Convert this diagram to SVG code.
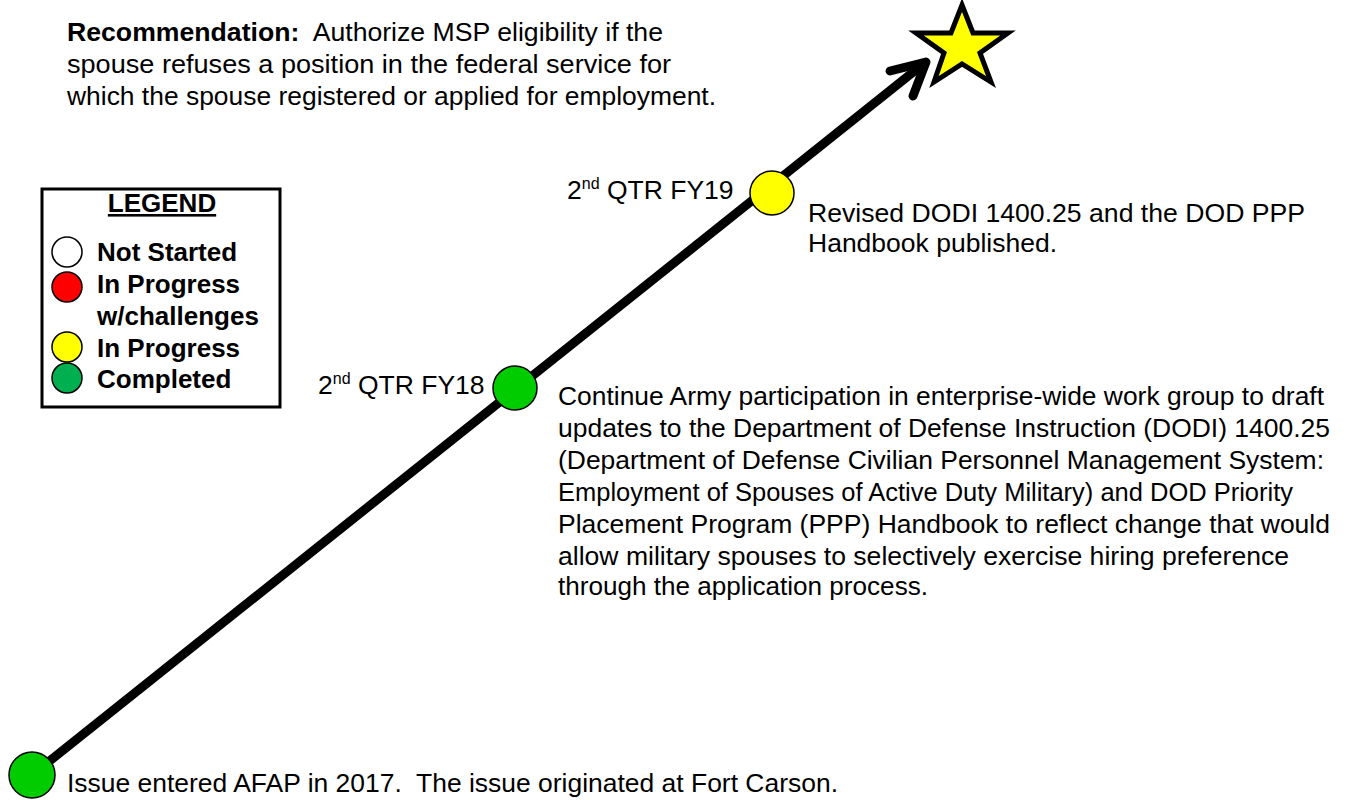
<svg xmlns="http://www.w3.org/2000/svg" width="1351" height="800" viewBox="0 0 1351 800">
<style>
  text { font-family: "Liberation Sans", Arial, sans-serif; fill: #000; white-space: pre; }
  .t { font-size: 26.5px; }
  .b { font-weight: bold; }
  .lg { font-size: 26px; font-weight: bold; }
  .node { stroke: #000; stroke-width: 1.5; }
  .sup { font-size: 16px; }
</style>
<rect width="1351" height="800" fill="#fff"/>
<g id="connectors">
  <line x1="32" y1="775" x2="922" y2="65" stroke="#000" stroke-width="9"/>
  <polyline points="890,71 926,62 913,96" fill="none" stroke="#000" stroke-width="9" stroke-linecap="round" stroke-linejoin="round"/>
</g>
<g id="star">
  <polygon points="962,5 973,33 1008,33 980,53 991,82 962,64 934,82 944,53 916,33 951,33" fill="#ffff00" stroke="#000" stroke-width="5" stroke-linejoin="miter"/>
</g>
<g id="recommendation">
  <text class="t" x="67" y="41" textLength="596" lengthAdjust="spacingAndGlyphs"><tspan class="b">Recommendation:</tspan>  Authorize MSP eligibility if the</text>
  <text class="t" x="67" y="73" textLength="604" lengthAdjust="spacingAndGlyphs">spouse refuses a position in the federal service for</text>
  <text class="t" x="67" y="105" textLength="649" lengthAdjust="spacingAndGlyphs">which the spouse registered or applied for employment.</text>
</g>
<g id="legend">
  <rect x="42" y="189" width="238" height="218" fill="#fff" stroke="#000" stroke-width="3"/>
  <text class="lg" x="162" y="212" text-anchor="middle" text-decoration="underline">LEGEND</text>
  <circle cx="67" cy="252" r="15" fill="#fff" class="node"/>
  <circle cx="67" cy="287" r="15" fill="#ff0000" class="node"/>
  <circle cx="67" cy="347" r="15" fill="#ffff00" class="node"/>
  <circle cx="67" cy="378" r="15" fill="#00b050" class="node"/>
  <text class="lg" x="97" y="261">Not Started</text>
  <text class="lg" x="97" y="293">In Progress</text>
  <text class="lg" x="97" y="325">w/challenges</text>
  <text class="lg" x="97" y="357">In Progress</text>
  <text class="lg" x="97" y="388">Completed</text>
</g>
<g id="node-start">
  <circle cx="32" cy="775" r="23" fill="#00cc00" class="node"/>
  <text class="t" x="67" y="792" textLength="771" lengthAdjust="spacingAndGlyphs">Issue entered AFAP in 2017.  The issue originated at Fort Carson.</text>
</g>
<g id="node-fy18">
  <circle cx="515" cy="388" r="22" fill="#00cc00" class="node"/>
  <text class="t" x="318" y="394">2<tspan class="sup" dy="-10">nd</tspan><tspan dy="10"> QTR FY18</tspan></text>
  <text class="t" x="558" y="405" textLength="766" lengthAdjust="spacingAndGlyphs">Continue Army participation in enterprise-wide work group to draft</text>
  <text class="t" x="558" y="437" textLength="772" lengthAdjust="spacingAndGlyphs">updates to the Department of Defense Instruction (DODI) 1400.25</text>
  <text class="t" x="558" y="469" textLength="766" lengthAdjust="spacingAndGlyphs">(Department of Defense Civilian Personnel Management System:</text>
  <text class="t" x="558" y="501" textLength="735" lengthAdjust="spacingAndGlyphs">Employment of Spouses of Active Duty Military) and DOD Priority</text>
  <text class="t" x="558" y="533" textLength="772" lengthAdjust="spacingAndGlyphs">Placement Program (PPP) Handbook to reflect change that would</text>
  <text class="t" x="558" y="565" textLength="731" lengthAdjust="spacingAndGlyphs">allow military spouses to selectively exercise hiring preference</text>
  <text class="t" x="558" y="595" textLength="370" lengthAdjust="spacingAndGlyphs">through the application process.</text>
</g>
<g id="node-fy19">
  <circle cx="772" cy="193" r="22" fill="#ffff00" class="node"/>
  <text class="t" x="567" y="199">2<tspan class="sup" dy="-10">nd</tspan><tspan dy="10"> QTR FY19</tspan></text>
  <text class="t" x="808" y="222" textLength="497" lengthAdjust="spacingAndGlyphs">Revised DODI 1400.25 and the DOD PPP</text>
  <text class="t" x="808" y="252" textLength="249" lengthAdjust="spacingAndGlyphs">Handbook published.</text>
</g>
</svg>
